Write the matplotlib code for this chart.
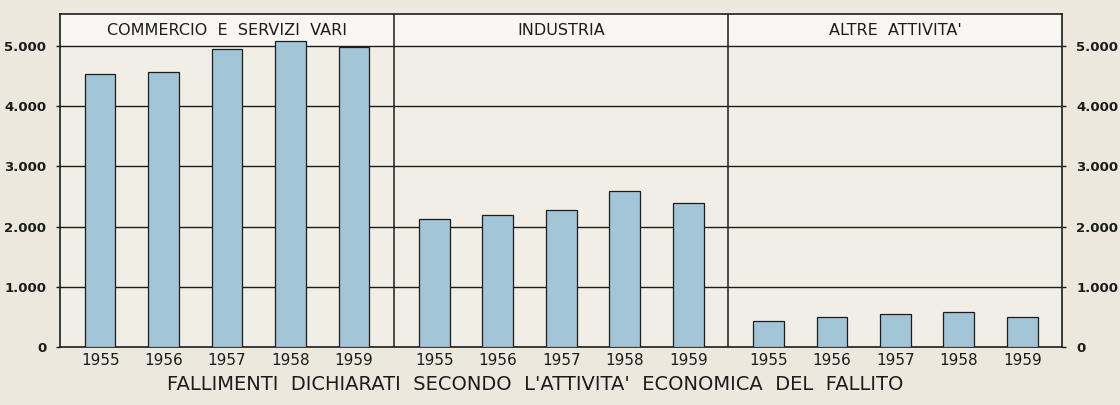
import matplotlib.pyplot as plt
from matplotlib.ticker import FuncFormatter

# fallimenti dichiarati per attivita economica del fallito
sectors = ['COMMERCIO  E  SERVIZI  VARI', 'INDUSTRIA', "ALTRE  ATTIVITA'"]
years = ['1955', '1956', '1957', '1958', '1959']
commercio = [4540, 4570, 4950, 5080, 4980]
industria = [2130, 2200, 2270, 2600, 2390]
altre = [430, 500, 550, 580, 500]
yticks = [0, 1000, 2000, 3000, 4000, 5000]

paper = '#ece8dd'
inside = '#f1eee6'
header = '#f8f7f3'
bar_col = '#a3c5d8'
ink = '#1c1c1c'

fig = plt.figure(figsize=(11.2, 4.05), dpi=100, facecolor=paper)
ax = fig.add_axes([0.0536, 0.143, 0.895, 0.822])
ax.set_facecolor(inside)

ymax = 5530
ax.set_xlim(0, 15)
ax.set_ylim(0, ymax)

# header band above 5000
ax.axhspan(5000, ymax, color=header, zorder=0)

xpos = []
labels = []
for p, vals in enumerate([commercio, industria, altre]):
  xs = [p * 5 + 0.6 + 0.95 * j for j in range(len(years))]
  ax.bar(xs, vals, width=0.46, color=bar_col, edgecolor=ink, linewidth=0.9, zorder=3)
  xpos += xs
  labels += years
  ax.text(p * 5 + 2.5, (5000 + ymax) / 2, sectors[p], ha='center', va='center',
          fontsize=11.5, color=ink, zorder=4)

for y in yticks[1:]:
  ax.axhline(y, color=ink, lw=1.0, zorder=1)
for xv in [5, 10]:
  ax.axvline(xv, color=ink, lw=1.1, zorder=4)

for s in ax.spines.values():
  s.set_color(ink)
  s.set_linewidth(1.2)

fmt = FuncFormatter(lambda v, pos: '{:,.0f}'.format(v).replace(',', '.'))
ax.set_yticks(yticks)
ax.yaxis.set_major_formatter(fmt)
ax.tick_params(axis='y', which='both', left=True, right=True, labelleft=True,
               labelright=True, length=3, width=1, color=ink, labelsize=9.5,
               labelcolor=ink, pad=7)
for lab in ax.get_yticklabels():
  lab.set_fontweight('bold')

ax.set_xticks(xpos)
ax.set_xticklabels(labels, fontsize=11, color=ink)
ax.tick_params(axis='x', length=0, pad=4)

fig.text(0.478, 0.05, "FALLIMENTI  DICHIARATI  SECONDO  L'ATTIVITA'  ECONOMICA  DEL  FALLITO",
         ha='center', va='center', fontsize=14, color=ink)

fig.savefig('out.png', dpi=100, facecolor=paper)
